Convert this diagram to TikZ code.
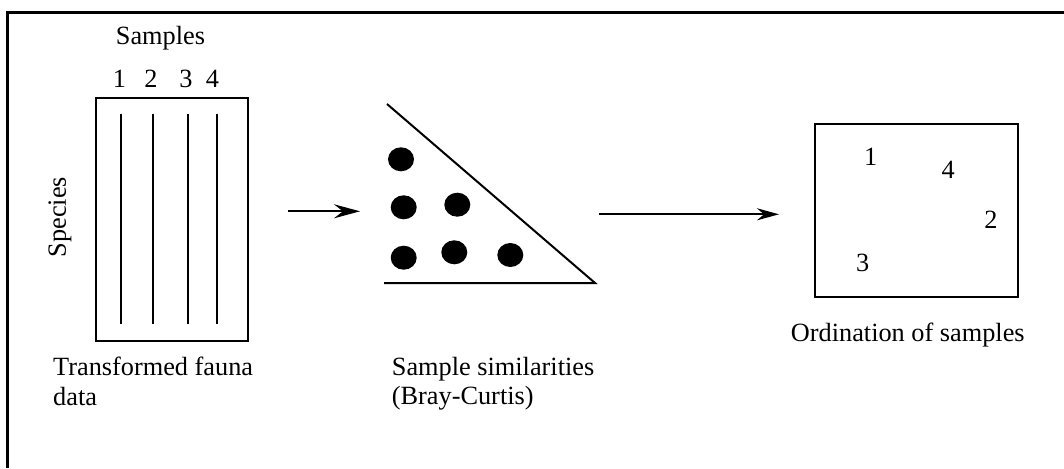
\documentclass[tikz,border=0pt]{standalone}
\usepackage{fontspec}
\setmainfont{Liberation Serif}
\usetikzlibrary{arrows.meta}
\begin{document}
\begin{tikzpicture}[x=1pt,y=-1pt,
  txt/.style={inner sep=0pt,font=\fontsize{26.3}{30}\selectfont},
  thinline/.style={line width=2pt},
  dot/.style={fill=black,draw=none},
  conn/.style={line width=2.2pt,-{Stealth[length=26pt,width=14pt,inset=9pt]}}]
\useasboundingbox (0,0) rectangle (1064,468);
% frame (top and left edges only)
\draw[line width=3pt] (7.5,468) -- (7.5,12.5) -- (1064,12.5);
% left data matrix
\draw[thinline] (96,98) rectangle (248,341);
\foreach \x in {121,153.3,187.7,217}{\draw[line width=2.2pt] (\x,114) -- (\x,324);}
\node[txt,anchor=base] (s1) at (119.5,87.5) {1};
\node[txt,anchor=base] (s2) at (151,87.5) {2};
\node[txt,anchor=base] (s3) at (186,87.5) {3};
\node[txt,anchor=base] (s4) at (212.5,87.5) {4};
\node[txt,anchor=base] (samples) at (160.5,45) {Samples};
\node[txt,rotate=90] (species) at (60,217) {Species};
\node[txt,anchor=base west,align=left] (tfd) at (53,375) {Transformed fauna};
\node[txt,anchor=base west] (tfd2) at (53,405) {data};
% triangle of similarities
\coordinate (ttop) at (387,104);
\coordinate (tright) at (595,283);
\coordinate (tleft) at (384,283);
\draw[thinline] (ttop) -- (tright) -- (tleft);
\fill[dot] (401,159.3) ellipse (13 and 12);
\fill[dot] (403.7,207.3) ellipse (13 and 12);
\fill[dot] (457.3,204.7) ellipse (13 and 12);
\fill[dot] (403.7,257.7) ellipse (13 and 12);
\fill[dot] (454.3,252.3) ellipse (13 and 12);
\fill[dot] (510.3,255) ellipse (13 and 12);
\node[txt,anchor=base west] (ss) at (391.7,375) {Sample similarities};
\node[txt,anchor=base west] (bc) at (391.7,404) {(Bray-Curtis)};
% arrows
\coordinate (a1s) at (288,211.3);
\coordinate (a1e) at (360,211.3);
\draw[conn] (a1s) -- (a1e);
\coordinate (a2s) at (599,214.3);
\coordinate (a2e) at (779,214.3);
\draw[line width=2.2pt,-{Stealth[length=22pt,width=12pt,inset=7pt]}] (a2s) -- (a2e);
% ordination
\draw[thinline] (815,124) rectangle (1017.7,297.3);
\node[txt,anchor=base] (o1) at (870.7,165) {1};
\node[txt,anchor=base] (o4) at (948.3,178.3) {4};
\node[txt,anchor=base] (o2) at (991,228.3) {2};
\node[txt,anchor=base] (o3) at (862.7,271.7) {3};
\node[txt,anchor=base west] (ord) at (790.7,341.7) {Ordination of samples};
\end{tikzpicture}
\end{document}
